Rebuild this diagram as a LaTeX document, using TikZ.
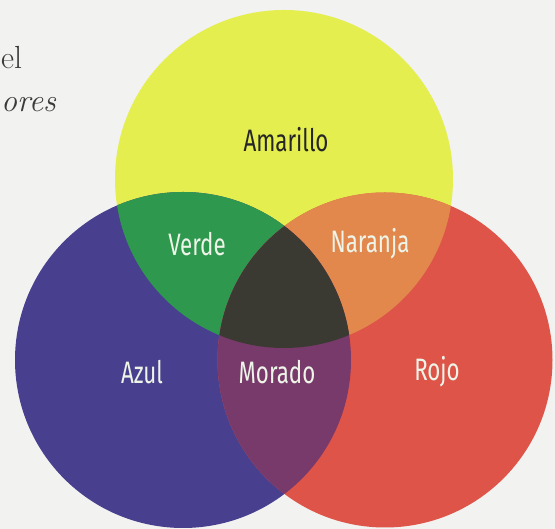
\documentclass[tikz,border=0pt]{standalone}
\usepackage{fontspec}
\newfontfamily\lblfont[FakeStretch=0.72]{Fira Sans}
\definecolor{paper}{HTML}{F2F2F0}
\definecolor{cyel}{HTML}{E4EE4E}
\definecolor{cblue}{HTML}{48408E}
\definecolor{cred}{HTML}{DE5449}
\definecolor{cgreen}{HTML}{2E984E}
\definecolor{corange}{HTML}{E2884D}
\definecolor{cpurple}{HTML}{783A6A}
\definecolor{cdark}{HTML}{3A3932}
\definecolor{lbltxt}{HTML}{EEF4E8}
\definecolor{bodytxt}{HTML}{3A3A3A}
\tikzset{
  lbl/.style={font=\lblfont\fontsize{31}{31}\selectfont, text=lbltxt, inner sep=0pt},
  lbldark/.style={lbl, text=black!85},
  body/.style={font=\fontsize{32}{32}\selectfont, text=bodytxt, inner sep=0pt, anchor=base west}
}
\begin{document}
\begin{tikzpicture}[x=1pt,y=1pt]
\useasboundingbox (0,0) rectangle (555,529);
\fill[paper] (0,0) rectangle (555,529);
\def\Ycirc{(284,350) circle[radius=169]}
\def\Bcirc{(183,169) circle[radius=168]}
\def\Rcirc{(385,169) circle[radius=167.5]}
\fill[cyel] \Ycirc;
\fill[cblue] \Bcirc;
\fill[cred] \Rcirc;
\begin{scope}\clip \Ycirc; \fill[cgreen] \Bcirc; \end{scope}
\begin{scope}\clip \Ycirc; \fill[corange] \Rcirc; \end{scope}
\begin{scope}\clip \Bcirc; \fill[cpurple] \Rcirc; \end{scope}
\begin{scope}\clip \Ycirc; \clip \Bcirc; \fill[cdark] \Rcirc; \end{scope}
\node[body] (t1) at (1,460) {el};
\node[body] (t2) at (1,417) {\itshape ores};
\node[lbldark] (am) at (286,389) {Amarillo};
\node[lbl] (ve) at (197,285) {Verde};
\node[lbl] (na) at (370,285) {Naranja};
\node[lbl] (az) at (142,157) {Azul};
\node[lbl] (mo) at (277,157) {Morado};
\node[lbl] (ro) at (437,157) {Rojo};
\end{tikzpicture}
\end{document}
